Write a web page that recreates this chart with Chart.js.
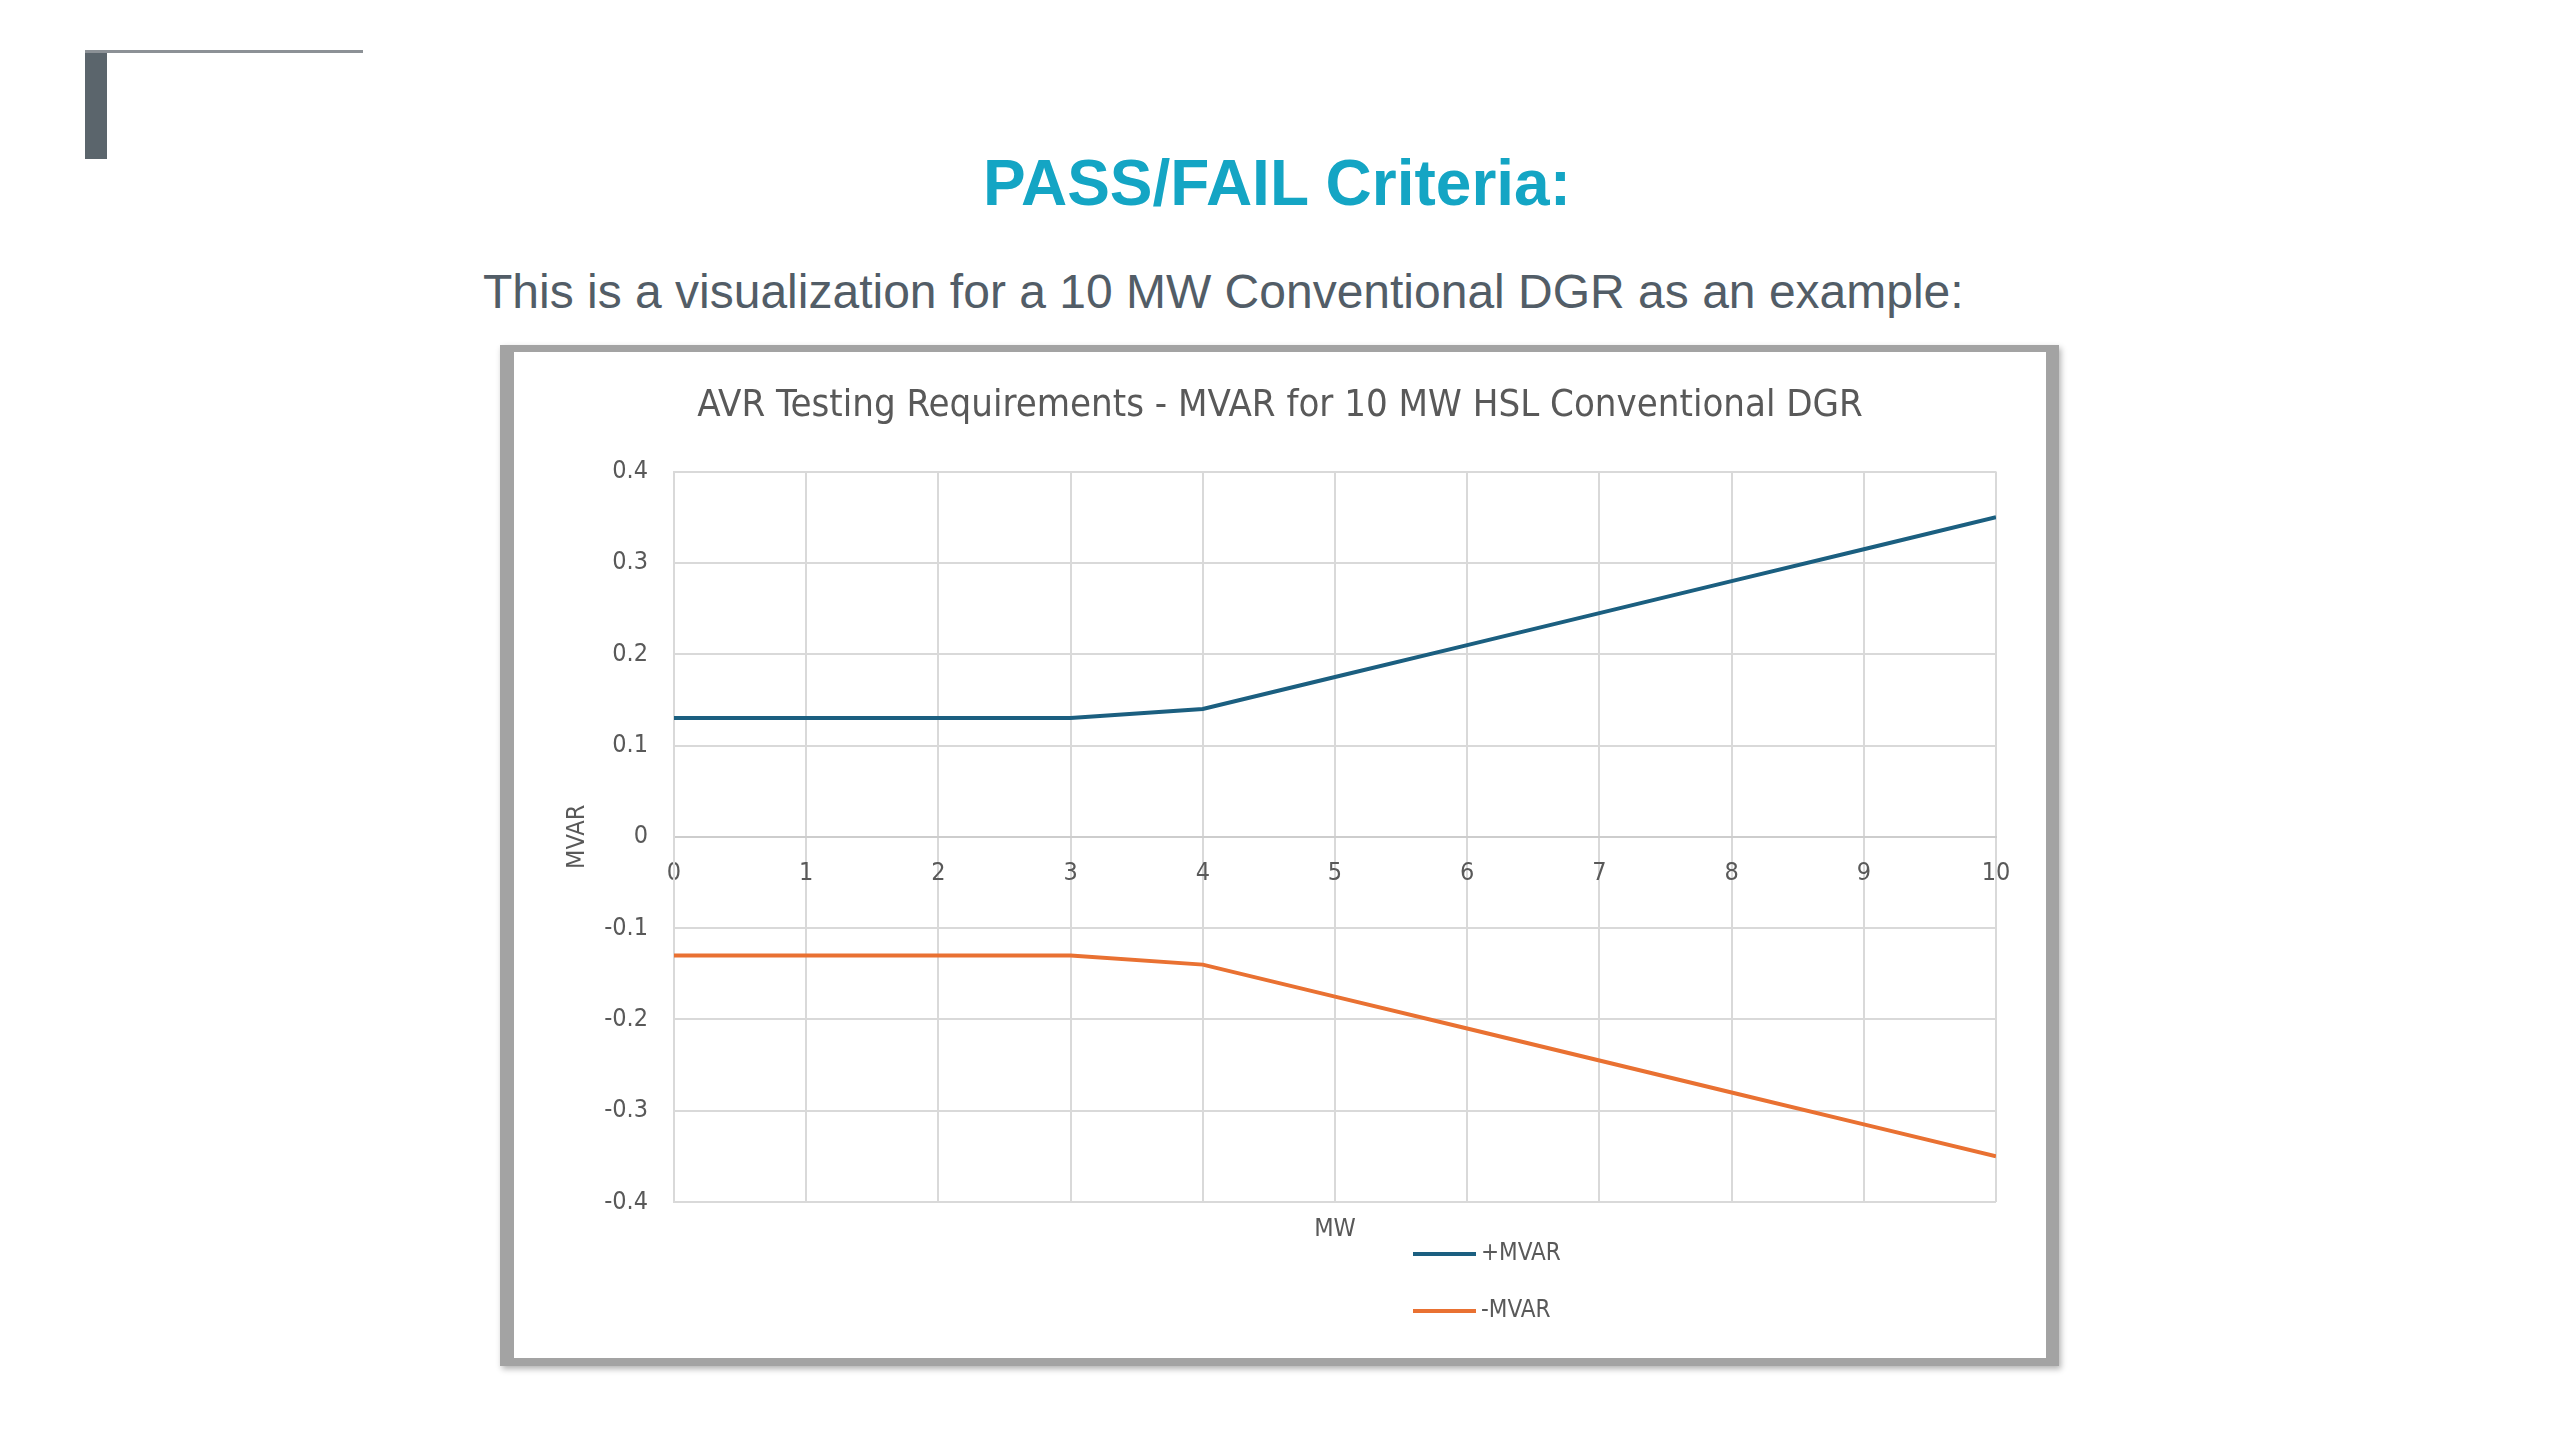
<!DOCTYPE html>
<html><head><meta charset="utf-8">
<script src="https://cdn.jsdelivr.net/npm/chart.js@4.4.0/dist/chart.umd.min.js"></script>
<style>
html,body{margin:0;padding:0;background:#fff;}
body{width:2560px;height:1440px;position:relative;overflow:hidden;font-family:'Liberation Sans',Arial,sans-serif;}
#bar{position:absolute;left:85px;top:50px;width:22px;height:109px;background:#5b656c;}
#rule{position:absolute;left:85px;top:50px;width:278px;height:3px;background:#8c9196;}
#title{position:absolute;left:0;top:151px;width:2554px;text-align:center;font-size:64px;line-height:64px;font-weight:bold;color:#14a5c4;}
#sub{position:absolute;left:483px;top:268px;font-size:48px;line-height:48px;color:#525d67;white-space:nowrap;}
#frame{position:absolute;left:500px;top:345px;width:1532px;height:1006px;border-style:solid;border-color:#a3a3a3;border-width:7px 13px 8px 14px;box-shadow:2px 3px 6px rgba(0,0,0,0.3);background:#fff;}
#wrap{position:relative;width:1532px;height:1006px;}
</style></head>
<body>
<div id="bar"></div>
<div id="rule"></div>
<div id="title">PASS/FAIL Criteria:</div>
<div id="sub">This is a visualization for a 10 MW Conventional DGR as an example:</div>
<div id="frame"><div id="wrap"><canvas id="c"></canvas></div></div>
<script>
const chartTitle = 'AVR Testing Requirements - MVAR for 10 MW HSL Conventional DGR';
const mwValues = [0, 1, 2, 3, 4, 5, 6, 7, 8, 9, 10];
const plusMvar = [0.13, 0.13, 0.13, 0.13, 0.14, 0.175, 0.21, 0.245, 0.28, 0.315, 0.35];
const minusMvar = [-0.13, -0.13, -0.13, -0.13, -0.14, -0.175, -0.21, -0.245, -0.28, -0.315, -0.35];
const seriesNames = ['+MVAR', '-MVAR'];
const xAxisTitle = 'MW';
const yAxisTitle = 'MVAR';

const FONT = "'Liberation Sans Narrow','DejaVu Sans Condensed','Liberation Sans',sans-serif";
const TXT = '#595959';

const titleShift = {
  id: 'titleShift',
  afterLayout(chart) {
    const t = chart.titleBlock;
    if (t) { t.left += 25; t.right += 25; }
  }
};

const stackLegend = {
  id: 'stackLegend',
  afterDraw(chart) {
    const {ctx, chartArea} = chart;
    const cx = (chartArea.left + chartArea.right) / 2;
    chart.data.datasets.forEach((ds, i) => {
      const y = chartArea.bottom + 52 + i * 57;
      ctx.save();
      ctx.strokeStyle = ds.borderColor;
      ctx.lineWidth = 4;
      ctx.beginPath();
      ctx.moveTo(cx + 78, y);
      ctx.lineTo(cx + 141, y);
      ctx.stroke();
      ctx.fillStyle = TXT;
      ctx.font = '24px ' + FONT;
      ctx.textBaseline = 'middle';
      ctx.textAlign = 'left';
      ctx.fillText(ds.label, cx + 146, y);
      ctx.restore();
    });
  }
};

new Chart(document.getElementById('c'), {
  type: 'line',
  data: {
    datasets: [
      {label: seriesNames[0], data: mwValues.map((x, i) => ({x, y: plusMvar[i]})), borderColor: '#1b5f80', borderWidth: 4, pointRadius: 0, tension: 0, fill: false},
      {label: seriesNames[1], data: mwValues.map((x, i) => ({x, y: minusMvar[i]})), borderColor: '#e97132', borderWidth: 4, pointRadius: 0, tension: 0, fill: false}
    ]
  },
  options: {
    responsive: true,
    maintainAspectRatio: false,
    animation: false,
    layout: {padding: {left: 0, right: 50, top: 0, bottom: 114}},
    plugins: {
      legend: {display: false},
      tooltip: {enabled: false},
      title: {display: true, text: chartTitle, color: TXT, font: {family: FONT, size: 38, weight: 'normal'}, padding: {top: 31, bottom: 43}}
    },
    scales: {
      x: {
        type: 'linear', position: {y: 0}, min: 0, max: 10,
        ticks: {stepSize: 1, padding: 22, color: TXT, font: {family: FONT, size: 25}, maxRotation: 0, autoSkip: false},
        grid: {color: '#d9d9d9', lineWidth: 2, drawTicks: false},
        border: {color: '#cdcdcd', width: 2}
      },
      xMW: {
        type: 'linear', position: 'bottom', min: 0, max: 10,
        ticks: {display: false},
        grid: {display: false, drawTicks: false},
        border: {display: false},
        title: {display: true, text: xAxisTitle, color: TXT, font: {family: FONT, size: 25}, padding: {top: 12, bottom: 0}}
      },
      y: {
        type: 'linear', position: 'left', min: -0.4, max: 0.4,
        afterFit(s) { s.width = 160; },
        ticks: {stepSize: 0.1, padding: 26, color: TXT, font: {family: FONT, size: 25}, callback: v => String(Math.round(v * 10) / 10)},
        grid: {color: '#d9d9d9', lineWidth: 2, drawTicks: false},
        border: {color: '#d9d9d9', width: 2},
        title: {display: true, text: yAxisTitle, color: TXT, font: {family: FONT, size: 25}, padding: {top: 48, bottom: 0}}
      }
    }
  },
  plugins: [titleShift, stackLegend]
});
</script>
</body></html>
